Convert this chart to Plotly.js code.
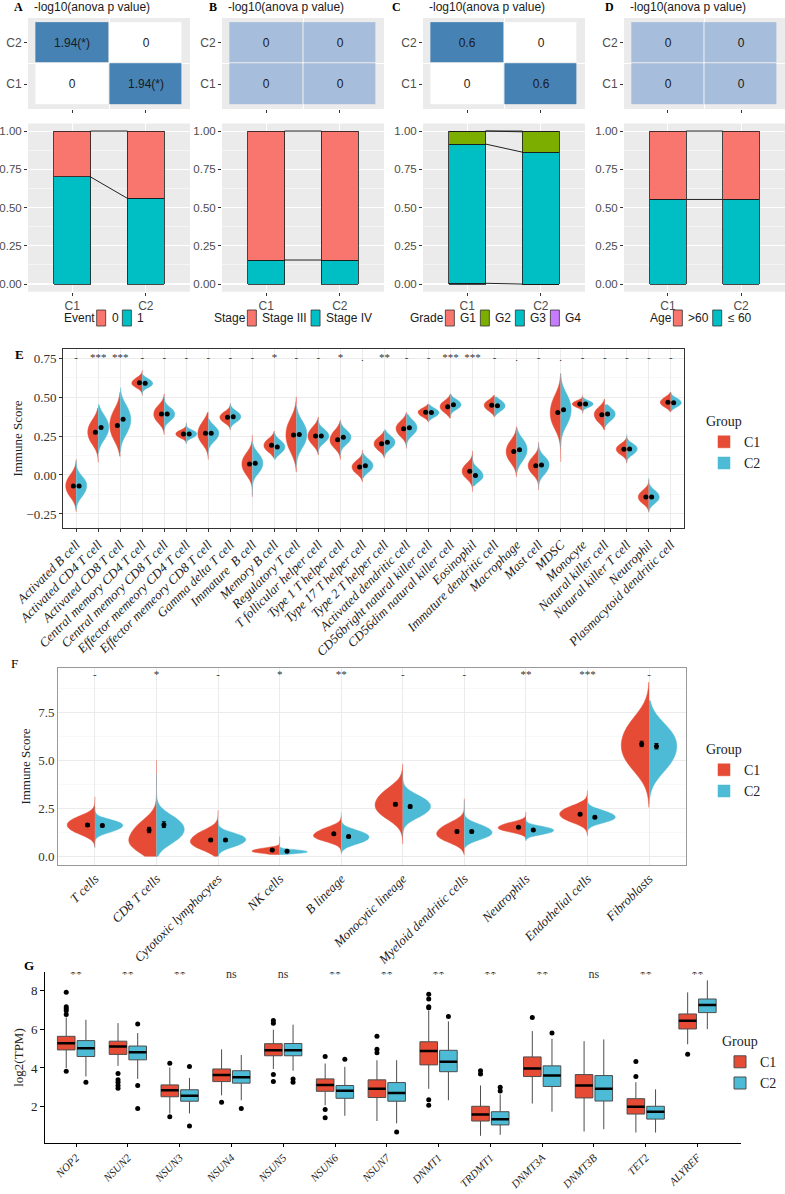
<!DOCTYPE html>
<html><head><meta charset="utf-8">
<script src="https://cdn.plot.ly/plotly-3.0.1.min.js"></script>
<style>html,body{margin:0;padding:0;background:#fff}#chart{width:785px;height:1194px}</style>
</head><body><div id="chart"></div>
<script>
// ================= DATA =================
const groups = ['C1', 'C2'];

// Heatmaps: rows = [C1, C2], columns = [C1, C2]
const heatA = [[0, 1.94], [1.94, 0]];
const heatAText = [['0', '1.94(*)'], ['1.94(*)', '0']];
const heatB = [[0, 0], [0, 0]];
const heatBText = [['0', '0'], ['0', '0']];
const heatC = [[0, 0.6], [0.6, 0]];
const heatCText = [['0', '0.6'], ['0.6', '0']];
const heatD = [[0, 0], [0, 0]];
const heatDText = [['0', '0'], ['0', '0']];

// Stacked proportions (levels listed top -> bottom of stack)
const eventLevels = ['0', '1'];
const eventC1 = [0.30, 0.70];
const eventC2 = [0.44, 0.56];
const stageLevels = ['Stage III', 'Stage IV'];
const stageC1 = [0.843, 0.157];
const stageC2 = [0.843, 0.157];
const gradeLevels = ['G1', 'G2', 'G3', 'G4'];
const gradeC1 = [0.0, 0.085, 0.910, 0.005];
const gradeC2 = [0.005, 0.133, 0.862, 0.0];
const ageLevels = ['>60', '≤ 60'];
const ageC1 = [0.447, 0.553];
const ageC2 = [0.447, 0.553];

// Panel E (immune cell infiltration)
const eCats = ['Activated B cell','Activated CD4 T cell','Activated CD8 T cell','Central memory CD4 T cell','Central memory CD8 T cell','Effector memeory CD4 T cell','Effector memeory CD8 T cell','Gamma delta T cell','Immature  B cell','Memory B cell','Regulatory T cell','T follicular helper cell','Type 1 T helper cell','Type 17 T helper cell','Type 2 T helper cell','Activated dendritic cell','CD56bright natural killer cell','CD56dim natural killer cell','Eosinophil','Immature dendritic cell','Macrophage','Mast cell','MDSC','Monocyte','Natural killer cell','Natural killer T cell','Neutrophil','Plasmacytoid dendritic cell'];
const eSig = ['-','***','***','-','-','-','-','-','-','*','-','-','*','.','**','-','-','***','***','-','.','-','.','-','-','-','-','-'];
const eC1Mean = [-0.07,0.274,0.318,0.592,0.391,0.263,0.267,0.37,0.07,0.19,0.256,0.25,0.226,0.051,0.20,0.297,0.402,0.438,0.024,0.447,0.15,0.06,0.40,0.455,0.387,0.165,-0.141,0.466];
const eC2Mean = [-0.07,0.305,0.357,0.588,0.391,0.263,0.267,0.374,0.075,0.18,0.26,0.25,0.242,0.06,0.21,0.303,0.40,0.451,-0.004,0.444,0.162,0.064,0.419,0.455,0.391,0.167,-0.141,0.464];
// [min, q1, median, q3, max]
const eC1Dist = [[-0.235,-0.12,-0.07,-0.02,0.10],[0.08,0.22,0.275,0.33,0.43],[0.12,0.25,0.32,0.39,0.53],[0.51,0.57,0.59,0.615,0.67],[0.26,0.35,0.39,0.43,0.52],[0.20,0.245,0.263,0.28,0.335],[0.10,0.22,0.267,0.32,0.40],[0.29,0.345,0.37,0.395,0.46],[-0.14,0.02,0.07,0.12,0.256],[0.11,0.16,0.19,0.22,0.28],[0.02,0.18,0.256,0.33,0.50],[0.13,0.21,0.25,0.29,0.37],[0.10,0.19,0.226,0.27,0.35],[-0.043,0.02,0.051,0.08,0.16],[0.11,0.17,0.20,0.23,0.28],[0.17,0.26,0.297,0.33,0.40],[0.34,0.38,0.402,0.42,0.455],[0.365,0.41,0.438,0.465,0.52],[-0.107,-0.01,0.024,0.06,0.154],[0.374,0.42,0.447,0.47,0.51],[-0.01,0.10,0.15,0.20,0.31],[-0.096,0.02,0.06,0.10,0.21],[0.085,0.33,0.40,0.48,0.65],[0.395,0.44,0.455,0.47,0.51],[0.29,0.35,0.387,0.42,0.485],[0.075,0.14,0.165,0.19,0.246],[-0.235,-0.17,-0.141,-0.11,-0.03],[0.405,0.445,0.466,0.49,0.53]];
const eC2Dist = [[-0.22,-0.12,-0.07,-0.03,0.09],[0.14,0.25,0.305,0.36,0.45],[0.15,0.29,0.355,0.42,0.56],[0.52,0.57,0.588,0.61,0.645],[0.29,0.36,0.39,0.42,0.50],[0.20,0.245,0.263,0.28,0.33],[0.14,0.23,0.267,0.30,0.36],[0.30,0.35,0.374,0.40,0.455],[-0.13,0.03,0.075,0.12,0.21],[0.10,0.15,0.18,0.21,0.27],[0.06,0.20,0.26,0.32,0.44],[0.145,0.22,0.25,0.28,0.35],[0.13,0.21,0.242,0.275,0.34],[-0.02,0.03,0.06,0.09,0.14],[0.12,0.18,0.21,0.24,0.29],[0.18,0.27,0.303,0.34,0.39],[0.35,0.38,0.40,0.42,0.45],[0.38,0.43,0.451,0.475,0.52],[-0.07,-0.03,-0.004,0.03,0.125],[0.38,0.42,0.444,0.47,0.50],[0.02,0.11,0.162,0.21,0.30],[-0.08,0.02,0.064,0.10,0.20],[0.17,0.35,0.419,0.49,0.65],[0.40,0.44,0.455,0.47,0.50],[0.31,0.36,0.391,0.42,0.45],[0.08,0.14,0.167,0.19,0.26],[-0.24,-0.17,-0.141,-0.11,-0.02],[0.41,0.445,0.464,0.485,0.53]];

// Panel F
const fCats = ['T cells','CD8 T cells','Cytotoxic lymphocytes','NK cells','B lineage','Monocytic lineage','Myeloid dendritic cells','Neutrophils','Endothelial cells','Fibroblasts'];
const fSig = ['-','*','-','*','**','-','-','**','***','-'];
const fC1Mean = [1.63,1.37,0.85,0.33,1.17,2.71,1.29,1.51,2.19,5.85];
const fC2Mean = [1.60,1.65,0.85,0.26,1.03,2.59,1.29,1.37,2.03,5.73];
const fC1Err = [0.07,0.14,0.06,0.03,0.06,0.08,0.07,0.05,0.06,0.14];
const fC2Err = [0.07,0.15,0.06,0.03,0.06,0.08,0.07,0.05,0.06,0.14];
const fC1Dist = [[0.5,1.3,1.63,1.95,3.1],[0.0,0.45,0.9,1.6,5.0],[0.0,0.5,0.8,1.2,2.4],[0.1,0.2,0.28,0.4,1.03],[0.2,0.9,1.1,1.4,2.07],[0.64,2.2,2.7,3.3,4.8],[0.09,0.9,1.2,1.6,3.0],[0.82,1.35,1.5,1.7,2.3],[1.08,1.9,2.2,2.5,3.42],[2.55,4.9,5.8,6.8,9.06]];
const fC2Dist = [[0.44,1.35,1.6,1.8,2.6],[0.0,0.9,1.4,1.9,4.3],[0.03,0.6,0.87,1.1,1.9],[0.1,0.18,0.24,0.32,0.73],[0.12,0.75,1.0,1.25,2.3],[1.08,2.2,2.6,3.0,4.3],[0.47,1.0,1.25,1.55,2.9],[0.82,1.2,1.35,1.5,1.95],[1.08,1.85,2.05,2.3,3.07],[2.7,4.8,5.7,6.5,8.1]];

// Panel G
const gGenes = ['NOP2','NSUN2','NSUN3','NSUN4','NSUN5','NSUN6','NSUN7','DNMT1','TRDMT1','DNMT3A','DNMT3B','TET2','ALYREF'];
const gSig = ['**','**','**','ns','ns','**','**','**','**','**','ns','**','**'];
const gC1Q1  = [4.93,4.70,2.52,3.30,4.63,2.80,2.48,4.16,1.27,3.56,2.46,1.63,6.01];
const gC1Med = [5.27,5.10,2.85,3.64,4.91,3.13,2.93,4.88,1.61,3.98,3.10,2.00,6.43];
const gC1Q3  = [5.63,5.38,3.13,3.95,5.25,3.44,3.39,5.35,2.03,4.57,3.66,2.42,6.78];
const gC1Lo  = [4.00,4.11,1.66,2.59,3.95,2.08,1.27,2.93,0.51,2.17,0.73,0.68,5.22];
const gC1Hi  = [6.60,6.31,4.03,4.96,5.97,4.23,4.40,6.95,3.10,5.90,5.38,3.27,7.89];
const gC1Out = [[3.83,6.75,6.95,7.05,7.15,7.90],[3.72,3.39,3.27,3.10,2.96],[4.25,1.49],[2.24],[6.30,6.45,3.66,3.30],[4.59,1.86,1.44],[4.79,4.96,5.63],[7.10,7.15,7.55,7.80,2.37,2.08],[3.69,3.86],[6.60],[],[3.56,4.33],[4.71]];
const gC2Q1  = [4.59,4.42,2.29,3.22,4.63,2.44,2.29,3.81,1.07,3.05,2.30,1.37,6.85];
const gC2Med = [5.02,4.81,2.57,3.52,4.91,2.83,2.71,4.32,1.36,3.61,2.93,1.75,7.24];
const gC2Q3  = [5.41,5.13,2.88,3.86,5.26,3.10,3.25,4.91,1.75,4.11,3.61,2.03,7.55];
const gC2Lo  = [3.56,3.44,1.66,2.34,3.86,1.54,1.15,2.34,0.56,1.75,0.85,0.68,6.00];
const gC2Hi  = [6.48,5.80,3.49,4.67,6.23,4.06,4.40,6.40,2.64,5.50,5.47,2.90,8.51];
const gC2Out = [[3.27],[6.26,3.10,1.91],[4.08,1.02],[1.91],[3.44,3.27],[4.45],[0.70],[6.65],[2.81,3.01],[5.80],[],[],[]];

// ================= STYLE / LAYOUT =================
const W = 785, H = 1194;
const dx = (a, b) => [a / W, b / W];
const dy = (t, b) => [1 - b / H, 1 - t / H];
const sans = 'Liberation Sans, Arial, sans-serif';
const serif = 'Liberation Serif, Times New Roman, serif';
const RED = '#E64B35', BLUE = '#4DBBD5';
const hue2 = ['#F8766D', '#00BFC4'];
const hue4 = ['#F8766D', '#7CAE00', '#00BFC4', '#C77CFF'];
const panelX = [[28, 190], [222, 384], [423, 585], [624, 785]];
const legendLeft = [62, 212, 408, 648];

const cnv = document.createElement('canvas').getContext('2d');
cnv.font = '12px "Liberation Sans"';
const tw = s => cnv.measureText(s).width;

const traces = [];
const layout = {
  width: W, height: H, margin: {l: 0, r: 0, t: 0, b: 0},
  paper_bgcolor: 'white', plot_bgcolor: 'white',
  barmode: 'stack', boxmode: 'overlay', violinmode: 'overlay',
  showlegend: true, shapes: [], annotations: []
};
const ann = (text, x, y, font, xanchor) => layout.annotations.push({text, xref: 'paper', yref: 'paper',
  x: x / W, y: 1 - y / H, xanchor: xanchor || 'left', yanchor: 'middle', showarrow: false, font});

// ---- Panels A-D ----
const heats = [[heatA, heatAText], [heatB, heatBText], [heatC, heatCText], [heatD, heatDText]];
const stacks = [
  ['Event', eventLevels, eventC1, eventC2, hue2],
  ['Stage', stageLevels, stageC1, stageC2, hue2],
  ['Grade', gradeLevels, gradeC1, gradeC2, hue4],
  ['Age', ageLevels, ageC1, ageC2, hue2]
];
const letters = ['A', 'B', 'C', 'D'];
const letterX = [12, 207, 390, 603];
const legFont = {family: sans, size: 12, color: '#1a1a1a'};

for (let p = 0; p < 4; p++) {
  const hi = p + 1, bi = p + 5;
  const [z, zt] = heats[p];
  const zmax = Math.max(...z.flat());
  const cs = zmax > 0 ? [[0, '#FFFFFF'], [1, '#4682B4']] : [[0, '#A6BDDB'], [1, '#A6BDDB']];
  traces.push({
    type: 'heatmap', x: [1, 2], y: [1, 2], z: z, text: zt, texttemplate: '%{text}',
    textfont: {family: sans, size: 12, color: '#1a1a1a'},
    colorscale: cs, zmin: 0, zmax: zmax > 0 ? zmax : 1, showscale: false,
    xgap: 1, ygap: 1, hoverinfo: 'skip', xaxis: 'x' + hi, yaxis: 'y' + hi, showlegend: false
  });
  const common = {zeroline: false, ticks: 'outside', ticklen: 3, tickcolor: '#333', tickwidth: 1,
    tickfont: {family: sans, size: 11.5, color: '#4d4d4d'}, gridcolor: 'white', gridwidth: 1.1};
  layout['xaxis' + hi] = Object.assign({}, common, {
    domain: dx(...panelX[p]), anchor: 'y' + hi, range: [0.4, 2.6], tickmode: 'array', tickvals: [1, 2],
    showticklabels: false, showgrid: false,
    minor: {tickmode: 'array', tickvals: [1.5], showgrid: true, gridcolor: 'white', gridwidth: 1, ticks: ''}
  });
  layout['yaxis' + hi] = Object.assign({}, common, {
    domain: dy(18, 109), anchor: 'x' + hi, range: [0.4, 2.6], tickmode: 'array', tickvals: [1, 2],
    ticktext: groups, showgrid: false, tickfont: {family: sans, size: 12, color: '#4d4d4d'},
    minor: {tickmode: 'array', tickvals: [1.5], showgrid: true, gridcolor: 'white', gridwidth: 1, ticks: ''}
  });
  // stacked bars
  const [lgTitle, levels, c1, c2, cols] = stacks[p];
  for (let k = levels.length - 1; k >= 0; k--) {
    traces.push({
      type: 'bar', x: [1, 2], y: [c1[k], c2[k]], width: 0.5, name: levels[k],
      marker: {color: cols[k], line: {color: '#1a1a1a', width: 0.8}},
      xaxis: 'x' + bi, yaxis: 'y' + bi, showlegend: false, hoverinfo: 'skip'
    });
  }
  // connecting lines between stack boundaries
  const lx = [], ly = [];
  let s1 = 0, s2 = 0;
  for (let k = levels.length - 1; k >= 0; k--) {
    s1 += c1[k]; s2 += c2[k];
    lx.push(1.25, 1.75, null); ly.push(s1, s2, null);
  }
  traces.push({type: 'scatter', mode: 'lines', x: lx, y: ly, line: {color: '#222', width: 1},
    showlegend: false, hoverinfo: 'skip', xaxis: 'x' + bi, yaxis: 'y' + bi});
  layout['xaxis' + bi] = Object.assign({}, common, {
    domain: dx(...panelX[p]), anchor: 'y' + bi, range: [0.4, 2.6], tickmode: 'array', tickvals: [1, 2],
    ticktext: groups, showgrid: true, tickfont: {family: sans, size: 12, color: '#4d4d4d'}
  });
  layout['yaxis' + bi] = Object.assign({}, common, {
    domain: dy(123.4, 291.7), anchor: 'x' + bi, range: [-0.05, 1.05], tick0: 0, dtick: 0.25,
    tickformat: '.2f', showgrid: true,
    minor: {dtick: 0.125, showgrid: true, gridcolor: 'white', gridwidth: 0.5, ticks: ''}
  });
  [hi, bi].forEach(a => layout.shapes.push({type: 'rect', xref: 'x' + a + ' domain', yref: 'y' + a + ' domain',
    x0: 0, x1: 1, y0: 0, y1: 1, fillcolor: '#EBEBEB', line: {width: 0}, layer: 'below'}));
  // legend below the bars (ggplot-style: title, then tall keys with labels)
  let lxp = legendLeft[p];
  ann(lgTitle, lxp, 318, legFont);
  lxp += tw(lgTitle) + 4;
  levels.forEach((lv, k) => {
    layout.shapes.push({type: 'rect', xref: 'paper', yref: 'paper', x0: lxp / W, x1: (lxp + 9) / W,
      y0: 1 - 326 / H, y1: 1 - 310 / H, fillcolor: cols[k], line: {color: '#333', width: 0.8}});
    lxp += 13;
    ann(lv, lxp, 318, legFont);
    lxp += tw(lv) + 6;
  });
  ann('-log10(anova p value)', panelX[p][0] + 4, 7, {family: sans, size: 12, color: '#1a1a1a'});
  ann('<b>' + letters[p] + '</b>', letterX[p], 7, {family: serif, size: 12, color: '#000'});
}

// ---- Violin helpers ----
function addViolins(dists, side, color, name, ax, leg, width) {
  dists.forEach((d, i) => {
    traces.push({
      type: 'violin', x0: i + 1, y: [d[1], d[2], d[3]], span: [d[0], d[4]], spanmode: 'manual',
      side: side, width: width, scalemode: 'width', scalegroup: ax + name + i,
      fillcolor: color, line: {color: color, width: 0.5}, points: false,
      box: {visible: false}, meanline: {visible: false}, hoverinfo: 'skip', opacity: 1,
      name: name, legendgroup: leg + name, showlegend: i === 0, legend: leg,
      xaxis: 'x' + ax, yaxis: 'y' + ax
    });
  });
}
function addDots(means, errs, ax, off) {
  const t = {type: 'scatter', mode: 'markers', x: means.map((_, i) => i + 1 + off), y: means,
    marker: {color: 'black', size: 5}, showlegend: false, hoverinfo: 'skip',
    xaxis: 'x' + ax, yaxis: 'y' + ax};
  if (errs) t.error_y = {type: 'data', array: errs, color: 'black', thickness: 1, width: 2};
  traces.push(t);
}

// ---- Panel E ----
addViolins(eC1Dist, 'negative', RED, 'C1', 9, 'legend', 0.95);
addViolins(eC2Dist, 'positive', BLUE, 'C2', 9, 'legend', 0.95);
addDots(eC1Mean, null, 9, -0.13);
addDots(eC2Mean, null, 9, 0.13);
traces.push({type: 'scatter', mode: 'text', x: eCats.map((_, i) => i + 1), y: eCats.map(() => 0.75),
  text: eSig, textfont: {family: serif, size: 11, color: '#333'}, showlegend: false, hoverinfo: 'skip',
  xaxis: 'x9', yaxis: 'y9'});
layout.xaxis9 = {domain: dx(63, 684), anchor: 'y9', range: [0.4, 28.6], tickmode: 'array',
  tickvals: eCats.map((_, i) => i + 1), ticktext: eCats, tickangle: -45,
  tickfont: {family: serif, size: 13, color: '#222', style: 'italic'}, ticks: 'outside', ticklen: 3,
  tickcolor: '#333', showgrid: true, gridcolor: '#EBEBEB', gridwidth: 1, zeroline: false,
  showline: true, mirror: true, linecolor: '#333', linewidth: 1};
layout.yaxis9 = {domain: dy(349, 528), anchor: 'x9', range: [-0.34, 0.808], tick0: 0, dtick: 0.25,
  tickformat: '.2f', tickfont: {family: serif, size: 13, color: '#333'}, ticks: 'outside', ticklen: 3,
  tickcolor: '#333', showgrid: true, gridcolor: '#EBEBEB', gridwidth: 1, zeroline: false,
  minor: {dtick: 0.125, showgrid: true, gridcolor: '#F4F4F4', gridwidth: 0.6, ticks: ''},
  showline: true, mirror: true, linecolor: '#333', linewidth: 1,
  title: {text: 'Immune Score', font: {family: serif, size: 13, color: '#222'}, standoff: 0}};
layout.legend = {x: 704 / W, xanchor: 'left', y: 1 - 408 / H, yanchor: 'top',
  title: {text: 'Group', font: {family: serif, size: 14, color: '#222'}},
  font: {family: serif, size: 14, color: '#222'}, bgcolor: 'rgba(0,0,0,0)', tracegroupgap: 0};
ann('<b>E</b>', 13, 355, {family: serif, size: 13, color: '#000'});

// ---- Panel F ----
addViolins(fC1Dist, 'negative', RED, 'C1', 10, 'legend2', 0.9);
addViolins(fC2Dist, 'positive', BLUE, 'C2', 10, 'legend2', 0.9);
addDots(fC1Mean, fC1Err, 10, -0.12);
addDots(fC2Mean, fC2Err, 10, 0.12);
traces.push({type: 'scatter', mode: 'text', x: fCats.map((_, i) => i + 1), y: fCats.map(() => 9.4),
  text: fSig, textfont: {family: serif, size: 11, color: '#333'}, showlegend: false, hoverinfo: 'skip',
  xaxis: 'x10', yaxis: 'y10'});
layout.xaxis10 = {domain: dx(58, 686), anchor: 'y10', range: [0.4, 10.6], tickmode: 'array',
  tickvals: fCats.map((_, i) => i + 1), ticktext: fCats, tickangle: -45,
  tickfont: {family: serif, size: 13, color: '#222', style: 'italic'}, ticks: '',
  showgrid: true, gridcolor: '#EBEBEB', gridwidth: 1, zeroline: false,
  showline: true, mirror: true, linecolor: '#999', linewidth: 1};
layout.yaxis10 = {domain: dy(668, 865), anchor: 'x10', range: [-0.45, 9.8], tick0: 0, dtick: 2.5,
  tickformat: '.1f', tickfont: {family: serif, size: 13, color: '#333'}, ticks: '',
  showgrid: true, gridcolor: '#EBEBEB', gridwidth: 1, zeroline: false,
  minor: {dtick: 1.25, showgrid: true, gridcolor: '#F4F4F4', gridwidth: 0.6, ticks: ''},
  showline: true, mirror: true, linecolor: '#999', linewidth: 1,
  title: {text: 'Immune Score', font: {family: serif, size: 13, color: '#222'}, standoff: 4}};
layout.legend2 = {x: 704 / W, xanchor: 'left', y: 1 - 736 / H, yanchor: 'top',
  title: {text: 'Group', font: {family: serif, size: 14, color: '#222'}},
  font: {family: serif, size: 14, color: '#222'}, bgcolor: 'rgba(0,0,0,0)', tracegroupgap: 0};
ann('F', 9, 663, {family: serif, size: 13, color: '#000'});

// ---- Panel G ----
const gSets = [
  ['C1', RED, -0.19, gC1Q1, gC1Med, gC1Q3, gC1Lo, gC1Hi, gC1Out],
  ['C2', BLUE, 0.19, gC2Q1, gC2Med, gC2Q3, gC2Lo, gC2Hi, gC2Out]
];
gSets.forEach(([name, col, off, q1, med, q3, lo, hi, out]) => {
  const xs = gGenes.map((_, i) => i + 1 + off);
  traces.push({type: 'box', x: xs, q1: q1, median: med, q3: q3, lowerfence: lo, upperfence: hi,
    width: 0.34, fillcolor: col, line: {color: '#4d4d4d', width: 1}, whiskerwidth: 0, boxpoints: false,
    name: name, legend: 'legend3', hoverinfo: 'skip', xaxis: 'x11', yaxis: 'y11'});
  traces.push({type: 'box', x: xs, q1: med, median: med, q3: med, lowerfence: med, upperfence: med,
    width: 0.34, fillcolor: 'rgba(0,0,0,0)', line: {color: '#000', width: 2.5}, whiskerwidth: 0,
    boxpoints: false, showlegend: false, hoverinfo: 'skip', xaxis: 'x11', yaxis: 'y11'});
  const ox = [], oy = [];
  out.forEach((arr, i) => arr.forEach(v => { ox.push(i + 1 + off); oy.push(v); }));
  traces.push({type: 'scatter', mode: 'markers', x: ox, y: oy, marker: {color: '#000', size: 5},
    showlegend: false, hoverinfo: 'skip', xaxis: 'x11', yaxis: 'y11'});
});
traces.push({type: 'scatter', mode: 'text', x: gGenes.map((_, i) => i + 1), y: gGenes.map(() => 8.8),
  text: gSig, textfont: {family: serif, size: 12, color: '#333'}, showlegend: false, hoverinfo: 'skip',
  xaxis: 'x11', yaxis: 'y11'});
layout.xaxis11 = {domain: dx(45, 741), anchor: 'y11', range: [0.4, 13.84], tickmode: 'array',
  tickvals: gGenes.map((_, i) => i + 1), ticktext: gGenes, tickangle: -45,
  tickfont: {family: serif, size: 11, color: '#222', style: 'italic'}, ticks: 'outside', ticklen: 3,
  tickcolor: '#000', showgrid: false, zeroline: false, showline: true, linecolor: '#000', linewidth: 1};
layout.yaxis11 = {domain: dy(972, 1143), anchor: 'x11', range: [0.14, 8.94], tickmode: 'array',
  tickvals: [2, 4, 6, 8], tickfont: {family: serif, size: 13, color: '#222'}, ticks: 'outside', ticklen: 4,
  tickcolor: '#000', showgrid: false, zeroline: false, showline: true, linecolor: '#000', linewidth: 1,
  title: {text: 'log2(TPM)', font: {family: serif, size: 13, color: '#222'}, standoff: 4}};
layout.legend3 = {x: 720 / W, xanchor: 'left', y: 1 - 1028 / H, yanchor: 'top',
  title: {text: 'Group', font: {family: serif, size: 14, color: '#222'}},
  font: {family: serif, size: 14, color: '#222'}, bgcolor: 'rgba(0,0,0,0)', tracegroupgap: 0};
ann('<b>G</b>', 22, 965, {family: serif, size: 13, color: '#000'});

Plotly.newPlot('chart', traces, layout, {staticPlot: true, displayModeBar: false});
</script></body></html>
